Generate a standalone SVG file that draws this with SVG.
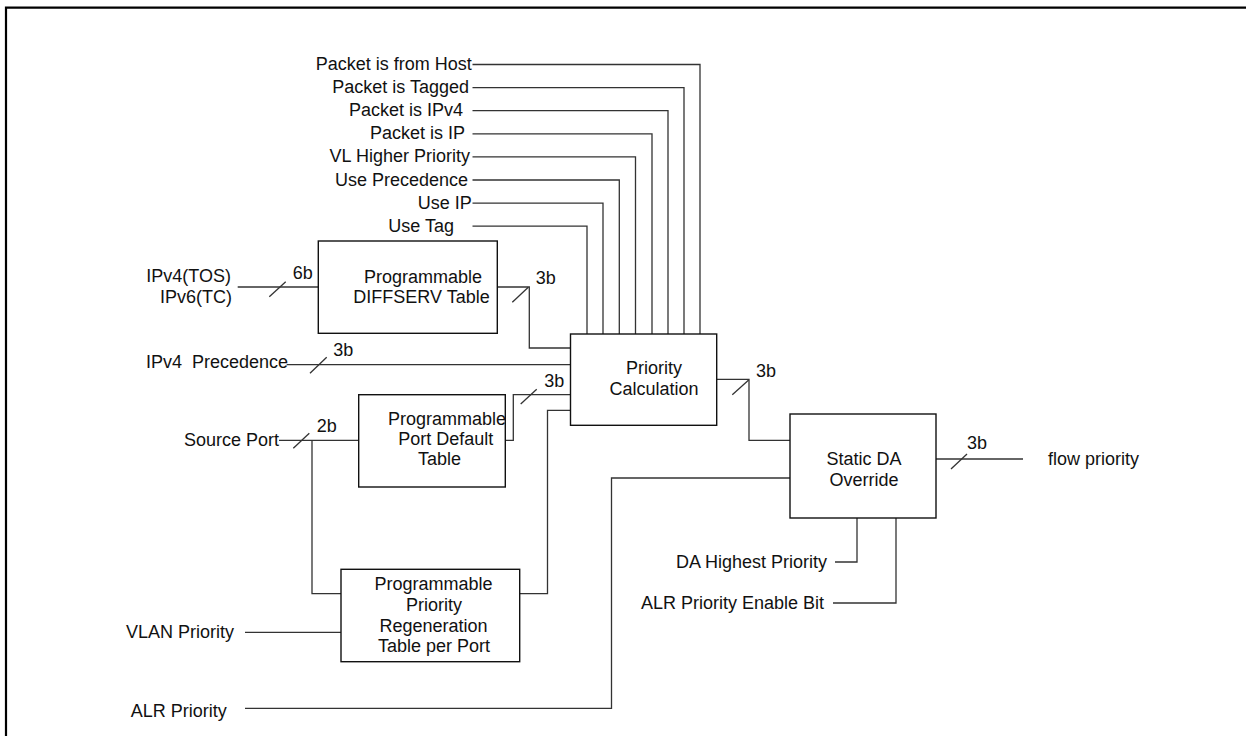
<svg xmlns="http://www.w3.org/2000/svg" width="1246" height="736" viewBox="0 0 1246 736">
<style>
text{font-family:"Liberation Sans",Arial,sans-serif;font-size:18px;fill:#111;white-space:pre}
.e{text-anchor:end}
.m{text-anchor:middle}
.box{fill:#fff;stroke:#111;stroke-width:1.4}
.w{fill:none;stroke:#333;stroke-width:1.3}
</style>
<rect width="1246" height="736" fill="#fff"/>
<path d="M6,736 V7.7 H1246" fill="none" stroke="#000" stroke-width="2.2"/>
<g id="connectors">
<path class="w" d="M472.5,64.5 H700 V334"/>
<path class="w" d="M472.5,87.6 H684 V334"/>
<path class="w" d="M472.5,110.7 H668 V334"/>
<path class="w" d="M472.5,133.8 H652 V334"/>
<path class="w" d="M472.5,156.9 H635.5 V334"/>
<path class="w" d="M472.5,180 H619.3 V334"/>
<path class="w" d="M472.5,203.1 H603 V334"/>
<path class="w" d="M472.5,226.2 H587 V334"/>
<path class="w" d="M237.7,287 H318.3"/>
<path class="w" d="M269.3,296.7 L285.7,281.7"/>
<path class="w" d="M497.3,287 H529.3 V348 H570.5"/>
<path class="w" d="M512.3,302.3 L528.3,287.3"/>
<path class="w" d="M286.7,364.7 H570.5"/>
<path class="w" d="M310,373.3 L326.7,357.3"/>
<path class="w" d="M505.3,440.3 H513.3 V394.7 H570.5"/>
<path class="w" d="M520.7,404 L536.7,389.3"/>
<path class="w" d="M279,440.3 H358.7"/>
<path class="w" d="M293.3,448.3 L309.3,433.3"/>
<path class="w" d="M312,440.3 V593.7 H341"/>
<path class="w" d="M519.7,593.7 H547.5 V410.3 H570.5"/>
<path class="w" d="M245,632.3 H341"/>
<path class="w" d="M716.7,379.3 H749 V440.3 H790"/>
<path class="w" d="M732.3,394.7 L748.7,380"/>
<path class="w" d="M245,708.3 H611.5 V478 H790"/>
<path class="w" d="M936,459 H1023"/>
<path class="w" d="M951,469 L967,454"/>
<path class="w" d="M835,562 H857 V518"/>
<path class="w" d="M833,603 H896 V518"/>
</g>
<g id="diffserv">
<rect class="box" x="318.3" y="241" width="179" height="92.3"/>
<text class="m" x="423" y="283.3">Programmable</text>
<text class="m" x="421.5" y="302.7">DIFFSERV Table</text>
</g>
<g id="portdefault">
<rect class="box" x="358.7" y="394.7" width="146.6" height="92.3"/>
<text class="m" x="447" y="425">Programmable</text>
<text class="m" x="445.7" y="445">Port Default</text>
<text class="m" x="439.5" y="465">Table</text>
</g>
<g id="regen">
<rect class="box" x="341" y="569.3" width="178.7" height="92.4"/>
<text class="m" x="433.5" y="590">Programmable</text>
<text class="m" x="434" y="611">Priority</text>
<text class="m" x="433.5" y="631.7">Regeneration</text>
<text class="m" x="434" y="652.3">Table per Port</text>
</g>
<g id="prioritycalc">
<rect class="box" x="570.5" y="334" width="146.2" height="91.3"/>
<text class="m" x="654" y="374">Priority</text>
<text class="m" x="654" y="395">Calculation</text>
</g>
<g id="staticda">
<rect class="box" x="790" y="414" width="146" height="104"/>
<text class="m" x="864" y="465">Static DA</text>
<text class="m" x="864" y="486">Override</text>
</g>
<g id="labels">
<text class="e" x="471.7" y="70">Packet is from Host</text>
<text class="e" x="469" y="93">Packet is Tagged</text>
<text class="e" x="463" y="116">Packet is IPv4</text>
<text class="e" x="465" y="139">Packet is IP</text>
<text class="e" x="470" y="162.4">VL Higher Priority</text>
<text class="e" x="468" y="185.5">Use Precedence</text>
<text class="e" x="471.7" y="208.6">Use IP</text>
<text class="e" x="454" y="231.7">Use Tag</text>
<text class="e" x="231" y="281.7">IPv4(TOS)</text>
<text class="e" x="232" y="303.3">IPv6(TC)</text>
<text x="146" y="368.3">IPv4  Precedence</text>
<text class="e" x="279" y="445.8">Source Port</text>
<text class="e" x="234" y="637.8">VLAN Priority</text>
<text x="130.7" y="717">ALR Priority</text>
<text class="e" x="827" y="567.5">DA Highest Priority</text>
<text class="e" x="824" y="608.5">ALR Priority Enable Bit</text>
<text x="1048" y="465">flow priority</text>
<text x="292.7" y="279.3">6b</text>
<text x="535.7" y="284.3">3b</text>
<text x="333.3" y="355.7">3b</text>
<text x="544.3" y="386.7">3b</text>
<text x="316.7" y="431.7">2b</text>
<text x="756" y="376.7">3b</text>
<text x="967" y="449">3b</text>
</g>
</svg>
